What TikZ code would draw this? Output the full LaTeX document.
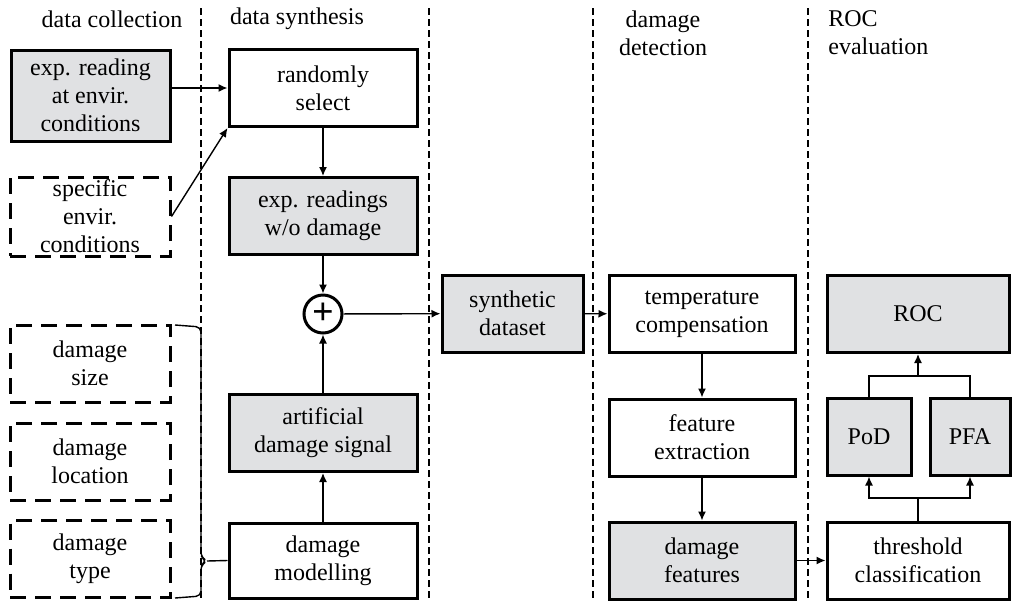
\documentclass[tikz,border=0pt]{standalone}
\usepackage{fontspec}
\setmainfont{Liberation Serif}
\usetikzlibrary{arrows.meta}
\definecolor{boxgray}{RGB}{224,225,227}
\begin{document}
\begin{tikzpicture}[x=0.5pt,y=-0.5pt,
  every node/.style={font=\fontsize{12}{14}\selectfont, align=center, inner sep=0pt},
  blk/.style={draw, line width=1.5pt, minimum height=38.5pt},
  dblk/.style={blk, dash pattern=on 8pt off 4.5pt},
  shd/.style={fill=boxgray},
  arr/.style={-{Latex[length=4.5pt,width=4pt]}, line width=0.7pt},
  lin/.style={line width=0.7pt},
  sep/.style={line width=0.6pt, dash pattern=on 3.5pt off 2pt}]
\useasboundingbox (0,0) rectangle (1013,601);
% column borders
\draw [sep] (201,8) -- (201,601);
\draw [sep] (429,8) -- (429,601);
\draw [sep] (593,8) -- (593,601);
\draw [sep] (808,8) -- (808,601);
% headings
\node (hcoll) at (112,19) {data collection};
\node (hsyn) at (297,19) {data synthesis};
\node (hdet) at (663,33) {damage\\detection};
\node [anchor=west, align=left] (hroc) at (828,33) {ROC\\evaluation};
% data collection
\node [blk, shd, minimum width=79.5pt, minimum height=45.5pt] (expread) at (90.5,95.5) {exp. reading\\at envir.\\conditions};
\node [dblk, minimum width=80pt, minimum height=39.5pt] (specific) at (90,216.5) {specific\\envir.\\conditions};
\node [dblk, minimum width=80pt] (dsize) at (90,363.5) {damage\\size};
\node [dblk, minimum width=80pt] (dloc) at (90,461.5) {damage\\location};
\node [dblk, minimum width=80pt] (dtype) at (90,559) {damage\\type};
% data synthesis
\node [blk, minimum width=94pt] (select) at (323,88) {randomly\\select};
\node [blk, shd, minimum width=94pt] (woread) at (323,216) {exp. readings\\w/o damage};
\node [draw, circle, line width=1.5pt, minimum size=19pt] (plus) at (323,314) {\fontsize{19}{19}\selectfont\bfseries +};
\node [blk, shd, minimum width=94pt] (signal) at (323,433) {artificial\\damage signal};
\node [blk, minimum width=94pt, minimum height=37.5pt] (model) at (323,560.5) {damage\\modelling};
\node [blk, shd, minimum width=70.5pt] (synth) at (512.5,313.5) {synthetic\\dataset};
% damage detection
\node [blk, minimum width=93pt] (tempcomp) at (702,314) {temperature\\compensation};
\node [blk, minimum width=93pt] (featext) at (702,437.5) {feature\\extraction};
\node [blk, shd, minimum width=93pt] (dfeat) at (702,560.5) {damage\\features};
% ROC evaluation
\node [blk, shd, minimum width=91pt] (roc) at (918,314) {ROC};
\node [blk, shd, minimum width=42pt] (pod) at (869,436.5) {PoD};
\node [blk, shd, minimum width=40pt] (pfa) at (970,436.5) {PFA};
\node [blk, minimum width=91pt] (thresh) at (918,560.5) {threshold\\classification};
% brace
\coordinate (tip) at (207,561);
\draw [lin, rounded corners=2.5pt] (175,325) -- (201,327) -- (201,557) -- (tip) -- (201,565) -- (201,596) -- (175,598);
\draw [lin] (tip) -- (model.west);
% connectors
\draw [arr] (expread.east |- select.west) -- (select.west);
\draw [arr] (specific.east) -- (select.south west);
\draw [arr] (select) -- (woread);
\draw [arr] (woread) -- (plus);
\draw [arr] (model) -- (signal);
\draw [arr] (signal) -- (plus);
\draw [arr] (plus) -- (synth);
\draw [arr] (synth) -- (tempcomp);
\draw [arr] (tempcomp) -- (featext);
\draw [arr] (featext) -- (dfeat);
\draw [arr] (dfeat) -- (thresh);
\coordinate (split) at (918,498);
\draw [lin] (thresh) -- (split);
\draw [arr] (split) -| (pod);
\draw [arr] (split) -| (pfa);
\coordinate (join) at (918,376);
\draw [lin] (pod) |- (join) -| (pfa);
\draw [arr] (join) -- (roc);
\end{tikzpicture}
\end{document}
